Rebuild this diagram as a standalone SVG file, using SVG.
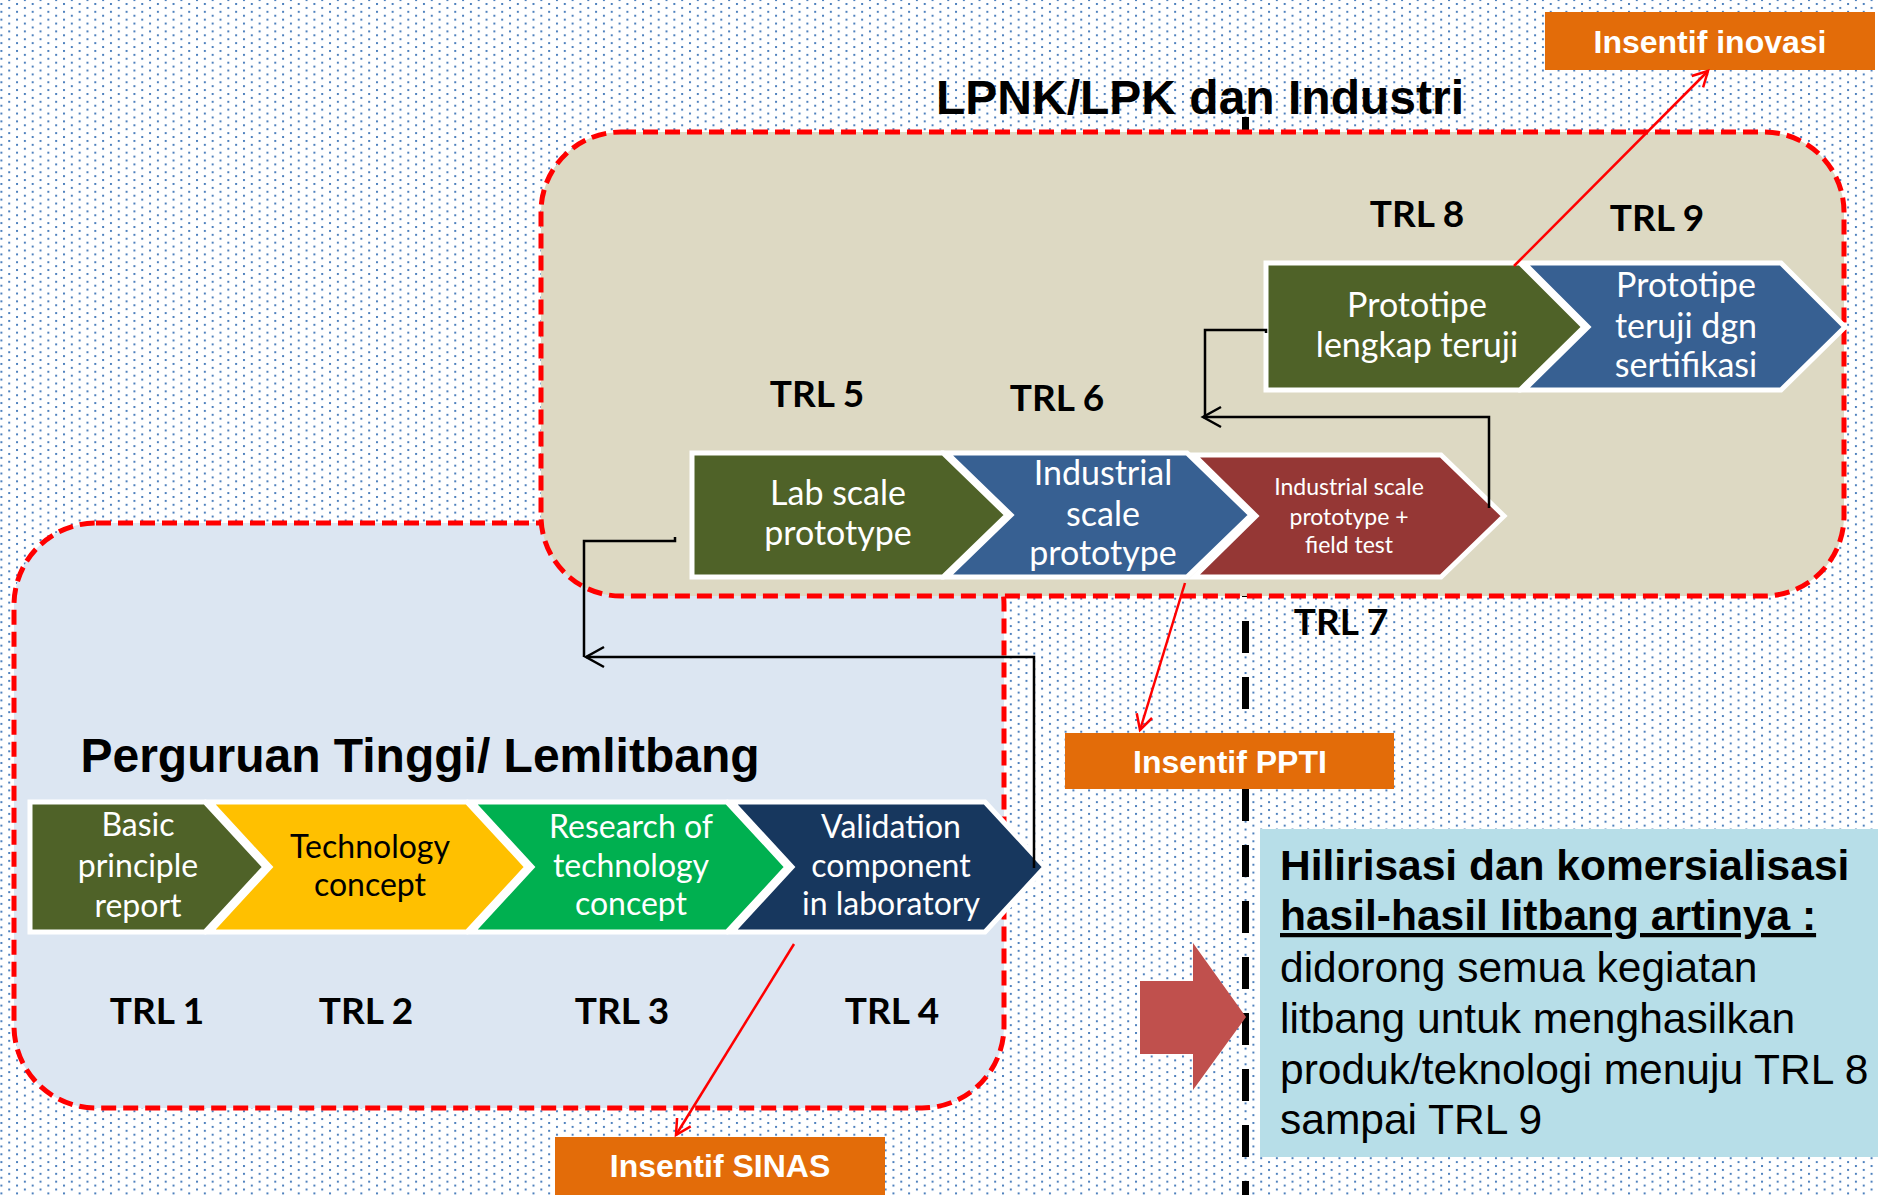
<svg xmlns="http://www.w3.org/2000/svg" width="1878" height="1195" viewBox="0 0 1878 1195">
  <defs>
    <pattern id="dots" patternUnits="userSpaceOnUse" x="0.4" y="-0.9" width="15.65" height="7.825">
      <rect x="0" y="3.9" width="2" height="2" fill="#4F81BD"/>
      <rect x="7.825" y="0" width="2" height="2" fill="#4F81BD"/>
    </pattern>
    <marker id="arrRed" markerUnits="userSpaceOnUse" viewBox="-20 -12 24 24" markerWidth="24" markerHeight="24" refX="0" refY="0" orient="auto" overflow="visible">
      <path d="M-15,-8 L0,0 L-15,8" fill="none" stroke="#FF0000" stroke-width="2.5"/>
    </marker>
    <marker id="arrBlack" markerUnits="userSpaceOnUse" viewBox="-22 -12 26 24" markerWidth="26" markerHeight="24" refX="0" refY="0" orient="auto" overflow="visible">
      <path d="M-18,-10 L0,0 L-18,10" fill="none" stroke="#000000" stroke-width="2.5"/>
    </marker>
    <style>
      .zone { stroke: #FF0000; stroke-width: 5; stroke-dasharray: 15 7; }
      .chev { stroke: #FFFFFF; stroke-width: 5; stroke-linejoin: miter; }
      .ctext { font-family: Lato, "Open Sans", sans-serif; fill: #FFFFFF; text-anchor: middle; }
      .trl { font-family: Lato, "Open Sans", sans-serif; font-weight: bold; font-size: 37px; fill: #000000; text-anchor: middle; }
      .head { font-family: "Liberation Sans", Arial, sans-serif; font-weight: bold; font-size: 48px; fill: #000000; text-anchor: middle; }
      .badge { fill: #E36C09; }
      .btext { font-family: "Liberation Sans", Arial, sans-serif; font-weight: bold; font-size: 32px; fill: #FFFFFF; text-anchor: middle; }
      .conn { fill: none; stroke: #000000; stroke-width: 2.5; }
      .red { fill: none; stroke: #FF0000; stroke-width: 2.5; }
      .note { font-family: "Liberation Sans", Arial, sans-serif; font-size: 42.5px; fill: #000000; }
    </style>
  </defs>

  <!-- page background with blue dot grid -->
  <rect x="0" y="0" width="1878" height="1195" fill="#FFFFFF"/>
  <rect x="0" y="0" width="1878" height="1195" fill="url(#dots)"/>

  <!-- vertical dashed divider -->
  <line x1="1245.5" y1="117" x2="1245.5" y2="1195" stroke="#000000" stroke-width="7" stroke-dasharray="32 24"/>

  <!-- university / research institute zone -->
  <g id="zone-pt">
    <rect class="zone" x="14" y="523" width="990" height="585" rx="82" ry="82" fill="#DCE6F2"/>
  </g>

  <!-- agency and industry zone -->
  <g id="zone-industri">
    <rect class="zone" x="541" y="132" width="1303" height="464" rx="80" ry="80" fill="#DDD9C3"/>
  </g>

  <text class="head" x="1200" y="114">LPNK/LPK dan Industri</text>
  <text class="head" x="420" y="772">Perguruan Tinggi/ Lemlitbang</text>

  <!-- TRL 1-4 chevrons -->
  <g id="trl1">
    <polygon class="chev" fill="#4F6228" points="30,802 205,802 265,867 205,932 30,932"/>
    <text class="ctext" font-size="32" x="138" y="836">Basic</text>
    <text class="ctext" font-size="32" x="138" y="877">principle</text>
    <text class="ctext" font-size="32" x="138" y="917">report</text>
  </g>
  <g id="trl2">
    <polygon class="chev" fill="#FFC000" points="210,802 467,802 527,867 467,932 210,932 270,867"/>
    <text class="ctext" font-size="32" x="370" y="858" style="fill:#000000">Technology</text>
    <text class="ctext" font-size="32" x="370" y="896" style="fill:#000000">concept</text>
  </g>
  <g id="trl3">
    <polygon class="chev" fill="#00B050" points="472,802 727,802 787,867 727,932 472,932 532,867"/>
    <text class="ctext" font-size="32" x="631" y="838">Research of</text>
    <text class="ctext" font-size="32" x="631" y="877">technology</text>
    <text class="ctext" font-size="32" x="631" y="915">concept</text>
  </g>
  <g id="trl4">
    <polygon class="chev" fill="#17375E" points="732,802 985,802 1045,867 985,932 732,932 792,867"/>
    <text class="ctext" font-size="32" x="891" y="838">Validation</text>
    <text class="ctext" font-size="32" x="891" y="877">component</text>
    <text class="ctext" font-size="32" x="891" y="915">in laboratory</text>
  </g>

  <!-- TRL 5-7 chevrons -->
  <g id="trl5">
    <polygon class="chev" fill="#4F6228" points="692,453 943,453 1007,515 943,577 692,577"/>
    <text class="ctext" font-size="34" x="838" y="505">Lab scale</text>
    <text class="ctext" font-size="34" x="838" y="545">prototype</text>
  </g>
  <g id="trl6">
    <polygon class="chev" fill="#376092" points="947,453 1187,453 1251,515 1187,577 947,577 1011,515"/>
    <text class="ctext" font-size="34" x="1103" y="485">Industrial</text>
    <text class="ctext" font-size="34" x="1103" y="526">scale</text>
    <text class="ctext" font-size="34" x="1103" y="565">prototype</text>
  </g>
  <g id="trl7">
    <polygon class="chev" fill="#953735" points="1194,455 1441,455 1504,516 1441,577 1194,577 1256,516"/>
    <text class="ctext" font-size="23" x="1349" y="495">Industrial scale</text>
    <text class="ctext" font-size="23" x="1349" y="525">prototype +</text>
    <text class="ctext" font-size="23" x="1349" y="553">field test</text>
  </g>

  <!-- TRL 8-9 chevrons -->
  <g id="trl8">
    <polygon class="chev" fill="#4F6228" points="1266,263 1520,263 1584,327 1520,390 1266,390"/>
    <text class="ctext" font-size="34" x="1417" y="317">Prototipe</text>
    <text class="ctext" font-size="34" x="1417" y="357">lengkap teruji</text>
  </g>
  <g id="trl9">
    <polygon class="chev" fill="#376092" points="1524,263 1781,263 1845,327 1781,390 1524,390 1588,327"/>
    <text class="ctext" font-size="34" x="1686" y="297">Prototipe</text>
    <text class="ctext" font-size="34" x="1686" y="338">teruji dgn</text>
    <text class="ctext" font-size="34" x="1686" y="377">sertifikasi</text>
  </g>

  <!-- TRL level labels -->
  <g id="trl-labels">
    <text class="trl" x="157" y="1024">TRL 1</text>
    <text class="trl" x="366" y="1024">TRL 2</text>
    <text class="trl" x="622" y="1024">TRL 3</text>
    <text class="trl" x="892" y="1024">TRL 4</text>
    <text class="trl" x="817" y="407">TRL 5</text>
    <text class="trl" x="1057" y="411">TRL 6</text>
    <text class="trl" x="1341" y="635">TRL 7</text>
    <text class="trl" x="1417" y="227">TRL 8</text>
    <text class="trl" x="1657" y="231">TRL 9</text>
  </g>

  <!-- incentive badges -->
  <g id="insentif-inovasi">
    <rect class="badge" x="1545" y="12" width="330" height="58"/>
    <text class="btext" x="1710" y="53">Insentif inovasi</text>
  </g>
  <g id="insentif-ppti">
    <rect class="badge" x="1065" y="733" width="329" height="56"/>
    <text class="btext" x="1230" y="773">Insentif PPTI</text>
  </g>
  <g id="insentif-sinas">
    <rect class="badge" x="555" y="1137" width="330" height="58"/>
    <text class="btext" x="720" y="1177">Insentif SINAS</text>
  </g>

  <!-- connectors -->
  <g id="connectors">
    <path class="conn" d="M1489,508 V417 H1203" marker-end="url(#arrBlack)"/>
    <path class="conn" d="M1266,333 V330 H1205 V417"/>
    <path class="conn" d="M1034,868 V657 H586" marker-end="url(#arrBlack)"/>
    <path class="conn" d="M675,537 V541 H584 V657"/>
    <line class="red" x1="1514" y1="266" x2="1708" y2="71" marker-end="url(#arrRed)"/>
    <line class="red" x1="1185" y1="583" x2="1140" y2="730" marker-end="url(#arrRed)"/>
    <line class="red" x1="794" y1="944" x2="676" y2="1135" marker-end="url(#arrRed)"/>
  </g>

  <!-- downstreaming note -->
  <g id="catatan">
    <rect x="1260" y="829" width="618" height="328" fill="#B7DEE8"/>
    <text class="note" x="1280" y="880" font-weight="bold">Hilirisasi dan komersialisasi</text>
    <text class="note" x="1280" y="930" font-weight="bold" text-decoration="underline">hasil-hasil litbang artinya :</text>
    <text class="note" x="1280" y="982">didorong semua kegiatan</text>
    <text class="note" x="1280" y="1033">litbang untuk menghasilkan</text>
    <text class="note" x="1280" y="1084">produk/teknologi menuju TRL 8</text>
    <text class="note" x="1280" y="1134">sampai TRL 9</text>
  </g>

  <!-- block arrow pointing to the note -->
  <g id="panah">
    <polygon fill="#C0504D" points="1140,981 1193,981 1193,943 1246,1017 1193,1090 1193,1054 1140,1054"/>
  </g>
</svg>
